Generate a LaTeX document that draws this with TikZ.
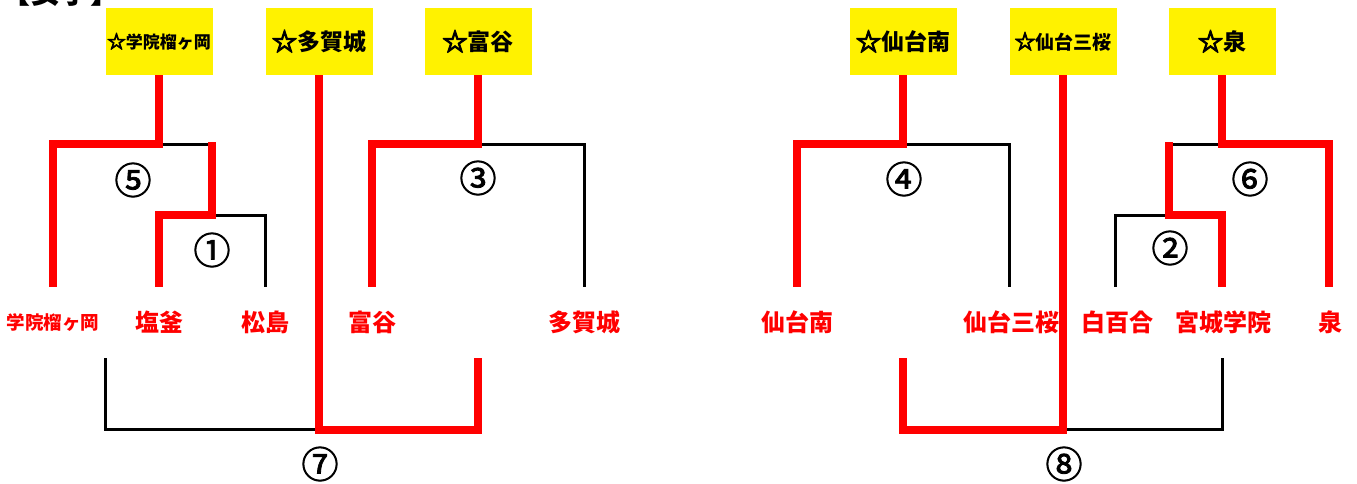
\documentclass[tikz,border=0pt]{standalone}
\usepackage{fontspec}
\newfontfamily\cjk{Noto Sans CJK JP}
\newfontfamily\starf[FakeBold=4]{Noto Sans CJK JP}
\newfontfamily\numf[FakeBold=2.2]{Noto Sans CJK JP}
\newcommand{\wstar}{{\starf\scalebox{1.1}{☆}}}
\tikzset{
  seed/.style={fill=yellow, minimum width=107pt, minimum height=67pt, inner sep=0pt,
    font=\cjk\bfseries\fontsize{23}{23}\selectfont},
  team/.style={text=red, minimum height=71pt, inner sep=0pt,
    font=\cjk\bfseries\fontsize{24}{24}\selectfont},
  num/.style={inner sep=0pt, font=\numf\fontsize{37}{37}\selectfont},
  win/.style={draw=red, line width=8pt, line join=miter},
  lose/.style={draw=black, line width=3pt, line join=miter},
}
\begin{document}
\begin{tikzpicture}[x=1pt,y=-1pt]
\useasboundingbox (0,0) rectangle (1357,483);
% heading (cut off at top, as in the reference)
\node[anchor=base west, inner sep=0pt, font=\cjk\bfseries\fontsize{30}{30}\selectfont] (hd) at (0,3) {【女子】};
% seeds
\node[seed, font=\cjk\bfseries\fontsize{17}{17}\selectfont] (b1) at (159,41.5) {\wstar 学院榴ヶ岡};
\node[seed] (b2) at (319,41.5) {\wstar 多賀城};
\node[seed] (b3) at (478,41.5) {\wstar 富谷};
\node[seed] (b4) at (903,41.5) {\wstar 仙台南};
\node[seed, font=\cjk\bfseries\fontsize{19}{19}\selectfont] (b5) at (1063,41.5) {\wstar 仙台三桜};
\node[seed] (b6) at (1222,41.5) {\wstar 泉};
% teams
\node[team, font=\cjk\bfseries\fontsize{18.5}{18.5}\selectfont] (l1) at (53,322.5) {学院榴ヶ岡};
\node[team] (l2) at (159,322.5) {塩釜};
\node[team] (l3) at (265.5,322.5) {松島};
\node[team] (l4) at (372,322.5) {富谷};
\node[team] (l5) at (584.5,322.5) {多賀城};
\node[team] (l6) at (797,322.5) {仙台南};
\node[team] (l7) at (1011,322.5) {仙台三桜};
\node[team] (l8) at (1117,322.5) {白百合};
\node[team] (l9) at (1223,322.5) {宮城学院};
\node[team] (l10) at (1330,322.5) {泉};
% match numbers
\node[num] (n1) at (212,250) {①};
\node[num] (n2) at (1170,248) {②};
\node[num] (n3) at (478,178) {③};
\node[num] (n4) at (904,179) {④};
\node[num] (n5) at (133,180) {⑤};
\node[num] (n6) at (1250,179) {⑥};
\node[num] (n7) at (320,464) {⑦};
\node[num] (n8) at (1064,464) {⑧};
% junctions
\coordinate (j5) at (159,144);
\coordinate (j1) at (212,215);
\coordinate (j3) at (478,144);
\coordinate (j4) at (903,144);
\coordinate (j6) at (1222,144);
\coordinate (j2) at (1169,215);
\coordinate (q7l) at (105.5,358);
\coordinate (q7r) at (478,358);
\coordinate (j7) at (319,429.5);
\coordinate (q8l) at (903,358);
\coordinate (q8r) at (1222,358);
\coordinate (j8) at (1063,429.5);
% losing (black) lines
\draw[lose] (j5) -- (j5 -| j1);
\draw[lose] (j1) -| (l3.north);
\draw[lose] (j3) -| (l5.north);
\draw[lose] (j4) -| (l7.north -| 1009.5,0);
\draw[lose] (j6) -- (j6 -| j2);
\draw[lose] (j2) -| (l8.north -| 1115.5,0);
\draw[lose] (q7l) |- (j7);
\draw[lose] (j8) -| (q8r);
% winning (red) lines
\draw[win] (b1.south) |- (l1.north |- j5) -- (l1.north);
\draw[win, shorten <=-2pt] (j5 -| j1) -- (j1) -| (l2.north);
\draw[win] (b3.south) -- (j3) -| (l4.north);
\draw[win] (b2.south) -- (j7) -| (q7r);
\draw[win] (b4.south) -- (j4) -| (l6.north);
\draw[win] (b6.south) -- (j6) -| (l10.north -| 1329,0);
\draw[win, shorten <=-2pt] (j6 -| j2) -- (j2) -| (l9.north -| 1222,0);
\draw[win] (q8l) |- (j8) -- (b5.south);
\end{tikzpicture}
\end{document}
